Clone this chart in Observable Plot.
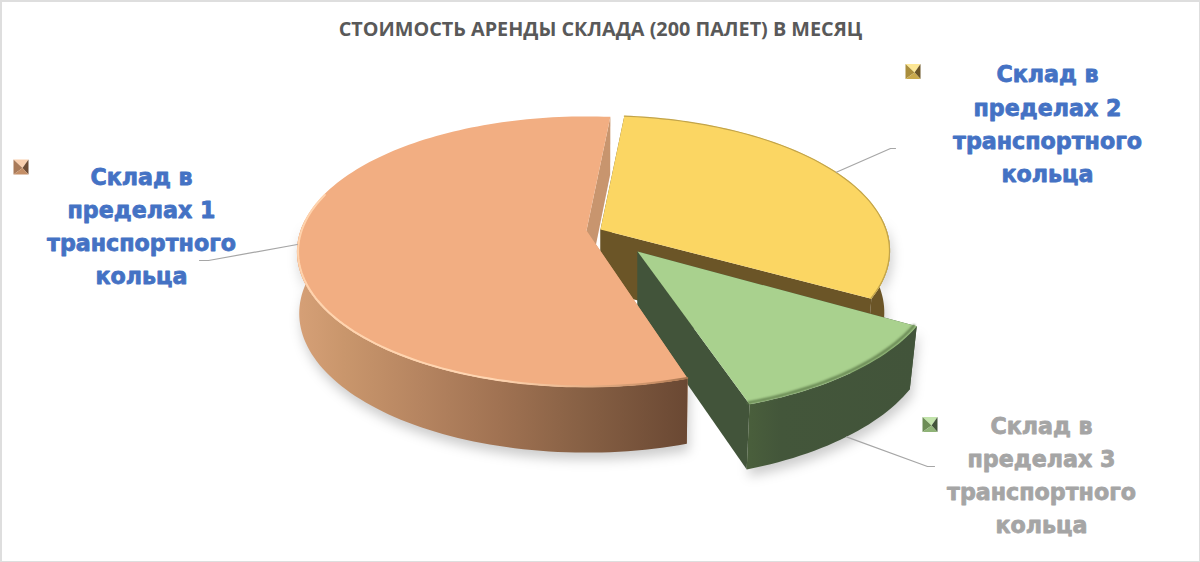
<!DOCTYPE html>
<html>
<head>
<meta charset="utf-8">
<script src="https://cdn.jsdelivr.net/npm/d3@7"></script>
<script src="https://cdn.jsdelivr.net/npm/@observablehq/plot@0.6"></script>
<style>
html,body{margin:0;padding:0;background:#fff}
svg{display:block}
</style>
</head>
<body>
<div id="chart"></div>
<script>
// data
const title = "СТОИМОСТЬ АРЕНДЫ СКЛАДА (200 ПАЛЕТ) В МЕСЯЦ";
const categories = ["Склад в\nпределах 1\nтранспортного\nкольца","Склад в\nпределах 2\nтранспортного\nкольца","Склад в\nпределах 3\nтранспортного\nкольца"];
const shares = [56.4, 31.5, 12.1];

// styles and layout
const topColors  = ["#f2ae82", "#fbd663", "#a9d18e"];
const wallColors = ["#c8956e", "#6b5527", "#42543a"];
const rimColors  = ["url(#rim0)", "#c2a44a", "#5f7d4b"];
const labelColors = ["#4472c4", "#4472c4", "#a5a5a5"];
const apexX = [586, 600, 637], apexY = [230, 229, 251], explodeScale = [1, 1, 1.04];
const gapDeg = [0, 0, 1.2];
const taper = [0.008, 0.02, 0.025];
const labelX = [141, 1047, 1041], labelY = [223.5, 121, 472.5];
const keyX = [20.5, 912.5, 929.5], keyY = [166.5, 71, 424];
const elbowX = [[208,199],[890,895],[927,934]], elbowY = [[260,260],[148,148],[466,466]];
const radiusX = 286, radiusY = 132, depth = 61, persp = 0.157, depthPersp = 0.4;
const rad = Math.PI/180;

const arcs = d3.pie().sort(null).startAngle(162.5*rad).endAngle((162.5+360)*rad)(shares)
  .map((a,i) => ({...a, startAngle:a.startAngle + gapDeg[i]*rad, endAngle:a.endAngle - gapDeg[i]*rad}));

function pt(i, a, h, inset = 1) {
  const s = 1/(1 + persp*Math.cos(a));
  return {
    x: apexX[i] + inset*radiusX*explodeScale[i]*Math.sin(a)*s*(1 - taper[i]*h),
    y: apexY[i] - inset*radiusY*explodeScale[i]*Math.cos(a)*s + depth*h*(1 + depthPersp*(s - 1))
  };
}
const apex = (i, h) => ({x: apexX[i], y: apexY[i] + depth*h});
const sweep = (arc) => {
  const n = Math.ceil((arc.endAngle - arc.startAngle)/(rad*1.5));
  return d3.range(n + 1).map(j => arc.startAngle + (arc.endAngle - arc.startAngle)*j/n);
};
const front = (i, limit) => sweep(arcs[i]).filter(a => Math.cos(a) < limit);
const topPoly  = i => [apex(i,0), ...sweep(arcs[i]).map(a => pt(i,a,0))];
const rimLine  = i => front(i, i === 1 ? 2 : 0.3).map(a => pt(i,a,0,i === 2 ? 0.99 : i === 1 ? 0.998 : 0.996));
const outer    = i => [...front(i,0.1).map(a => pt(i,a,0)), ...front(i,0.1).reverse().map(a => pt(i,a,1))];
const radial   = (i,a) => [apex(i,0), pt(i,a,0), pt(i,a,1), apex(i,1)];
const mid = i => (arcs[i].startAngle + arcs[i].endAngle)/2;

const gradient = (id, stops) => `<linearGradient id="${id}" x1="0" x2="1" y1="0" y2="0">` +
  stops.map(([o,c]) => `<stop offset="${o}" stop-color="${c}"/>`).join("") + `</linearGradient>`;
const defs = () => {
  const g = document.createElementNS("http://www.w3.org/2000/svg","g");
  g.innerHTML = `<defs>` +
    gradient("side0", [[0,"#d6a077"],[0.12,"#c9966c"],[0.32,"#b58460"],[0.52,"#a07252"],[0.72,"#886145"],[1,"#6a4833"]]) +
    gradient("side1", [[0,"#6b5527"],[1,"#6b5527"]]) +
    gradient("side2", [[0,"#4a5f3c"],[0.2,"#43563a"],[1,"#42543a"]]) +
    gradient("rim0", [[0,"#ffd3ad"],[0.5,"#ffd6b2"],[0.72,"#eab58c"],[0.92,"#c98f66"],[1,"#a5744f"]]) +
    `</defs>`;
  return g;
};

const marks = [defs, Plot.frame({stroke:"#dedede", strokeWidth:3})];

// soft shadow
[1,2,0].forEach(i => marks.push(Plot.line(outer(i), {
  x:"x", y:"y", fill:"#000", fillOpacity:0.2, stroke:"none", dx:2, dy:7, imageFilter:"blur(6px)"
})));

[1,2,0].forEach(i => {
  const w = [arcs[i].startAngle, arcs[i].endAngle].flatMap((a,j) => radial(i,a).map(p => ({...p, z:j})));
  marks.push(Plot.line(w, {x:"x", y:"y", z:"z", fill:wallColors[i], stroke:"none"}));
  marks.push(Plot.line(outer(i), {x:"x", y:"y", fill:`url(#side${i})`, stroke:"none"}));
  marks.push(Plot.line(topPoly(i), {x:"x", y:"y", fill:topColors[i], stroke:"none"}));
  marks.push(Plot.line(rimLine(i), {
    x:"x", y:"y", stroke:rimColors[i], strokeWidth:i === 0 ? 2 : i === 1 ? 1.2 : 2.5,
    imageFilter: i === 0 ? "blur(0.5px)" : i === 1 ? "blur(0.3px)" : "blur(1.2px)"
  }));
});

// leader lines
arcs.forEach((arc, i) => {
  const start = pt(i, mid(i), i === 2 ? 1 : 0);
  const pts = [start, ...elbowX[i].map((x,j) => ({x, y: elbowY[i][j]}))];
  marks.push(Plot.line(pts, {x:"x", y:"y", stroke:"#a6a6a6", strokeWidth:1.2}));
});

// legend keys: four bevelled triangles
const keyShades = [
  ["#f9cfae","#c48e66","#6e4d36","#a97a58"],
  ["#fde795","#c9a94c","#6b5527","#a98d3c"],
  ["#c2e3ab","#8fb377","#42543a","#6c8c56"]
];
categories.forEach((c, i) => {
  const r = 7.5, cx = keyX[i] + 1.5, cy = keyY[i] + 1, X = keyX[i], Y = keyY[i];
  const corners = [{x:X-r,y:Y-r},{x:X+r,y:Y-r},{x:X+r,y:Y+r},{x:X-r,y:Y+r}];
  const order = [[0,1],[3,0],[1,2],[2,3]];
  const tris = order.flatMap(([a,b],t) => [corners[a],corners[b],{x:cx,y:cy}].map(p => ({...p, t})));
  const shade = [keyShades[i][0], keyShades[i][3], keyShades[i][2], keyShades[i][1]];
  marks.push(Plot.line(tris, {x:"x", y:"y", z:"t", fill:d => shade[d.t], stroke:"none"}));
});

// labels
marks.push(Plot.text(categories.map((text,i) => ({text, x:labelX[i], y:labelY[i], c:labelColors[i]})), {
  x:"x", y:"y", text:"text", fill:d => d.c, stroke:d => d.c, strokeWidth:0.8, paintOrder:"stroke",
  fontFamily:"DejaVu Sans", fontWeight:700, fontSize:22.2, lineHeight:1.49, lineAnchor:"middle", textAnchor:"middle"
}));

// title
marks.push(Plot.text([title], {
  x:() => 600, y:() => 29, text:d => d, fill:"#595959", fontFamily:"Open Sans", fontWeight:700, fontSize:19.8,
  lineAnchor:"middle", textAnchor:"middle"
}));

const chart = Plot.plot({
  width:1200, height:562, margin:0,
  x:{domain:[0,1200], range:[0,1200], axis:null},
  y:{domain:[0,562], range:[0,562], axis:null},
  color:{type:"identity"},
  style:{background:"#fff", overflow:"visible"},
  marks
});
document.getElementById("chart").append(chart);
</script>
</body>
</html>
